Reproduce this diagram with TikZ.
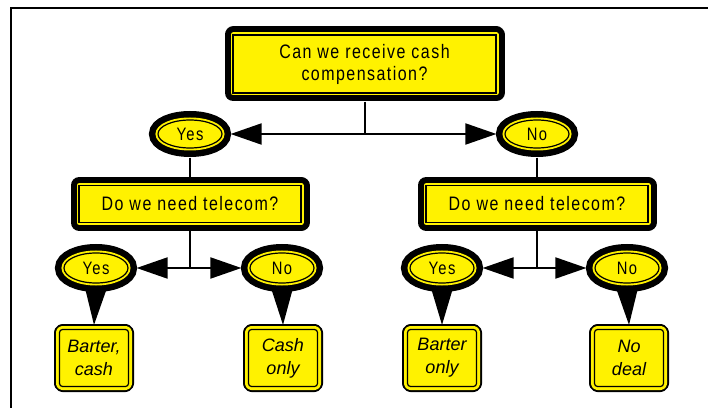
\documentclass[tikz,border=0pt]{standalone}
\usepackage{fontspec}
\setmainfont{Liberation Sans}
\newfontfamily\spaced[LetterSpace=7.5, FakeStretch=0.82]{Liberation Sans}
\usetikzlibrary{shapes.geometric, arrows.meta, positioning, calc}

\begin{document}
\begin{tikzpicture}[
  x=1pt, y=1pt, node distance=70pt,
  question/.style={rectangle, minimum width=222pt, minimum height=37pt, inner sep=0pt, text centered, align=center, font=\spaced\fontsize{19.5}{22}\selectfont, draw=black, line width=1.2pt, fill=yellow, preaction={draw=black, line width=17pt, line join=round}, preaction={draw=yellow, line width=5pt, line join=round}},
  answer/.style={ellipse, minimum width=64pt, minimum height=28pt, inner sep=0pt, font=\spaced\fontsize{18}{20}\selectfont, draw=black, line width=1.2pt, fill=yellow, preaction={draw=black, line width=18pt}, preaction={draw=yellow, line width=5pt}},
  outcome/.style={rectangle, rounded corners=3pt, minimum width=69pt, minimum height=57pt, inner sep=0pt, text centered, align=center, font=\itshape\fontsize{18}{23}\selectfont, draw=black, line width=1.2pt, fill=yellow, preaction={draw=black, line width=11pt, line join=round}, preaction={draw=yellow, line width=7pt, line join=round}},
  link/.style={line width=2pt},
  arrow/.style={line width=2pt, -{Triangle[length=31pt, width=21pt]}, shorten >=8pt},
  wedge/.style={fill=black}]

  \useasboundingbox (0,0) rectangle (708,407);
  \draw [line width=2.5pt] (710,399) -| (11,-2);

  % Nodes
  \node (cash) [question, minimum width=263pt, minimum height=58pt] at (364.5,343) {Can we receive cash \\ compensation?};
  \node (yesA) [answer, below of=cash, xshift=-174.5pt] {Yes};
  \node (noA) [answer, below of=cash, xshift=172.5pt] {No};

  \node (telA) [question, below of=yesA] {Do we need telecom?};
  \node (telB) [question, below of=noA] {Do we need telecom?};

  \node (yesB) [answer, minimum height=30pt, below of=telA, xshift=-94pt, yshift=6pt] {Yes};
  \node (noB) [answer, minimum height=30pt, below of=telA, xshift=92pt, yshift=6pt] {No};
  \node (yesC) [answer, minimum height=30pt, below of=telB, xshift=-95pt, yshift=6pt] {Yes};
  \node (noC) [answer, minimum height=30pt, below of=telB, xshift=90pt, yshift=6pt] {No};

  \node (barter) [outcome, below of=yesB, xshift=-2pt, yshift=-20pt] {Barter, \\ cash};
  \node (cashonly) [outcome, below of=noB, xshift=1pt, yshift=-20pt] {Cash \\ only};
  \node (barteronly) [outcome, below of=yesC, yshift=-20pt] {Barter \\ only};
  \node (nodeal) [outcome, below of=noC, xshift=2pt, yshift=-20pt] {No \\ deal};

  \coordinate (forkA) at (cash |- yesA);
  \coordinate (forkB) at (telA |- yesB);
  \coordinate (forkC) at (telB |- yesC);

  % Arrows
  \draw [link, shorten <=8pt] (cash) -- (forkA);
  \draw [arrow] (forkA) -- (yesA);
  \draw [arrow] (forkA) -- (noA);
  \draw [link, shorten <=9pt, shorten >=8pt] (yesA) -- (telA);
  \draw [link, shorten <=9pt, shorten >=8pt] (noA) -- (telB);

  \draw [link, shorten <=8pt] (telA) -- (forkB);
  \draw [arrow] (forkB) -- (yesB);
  \draw [arrow] (forkB) -- (noB);
  \draw [link, shorten <=8pt] (telB) -- (forkC);
  \draw [arrow] (forkC) -- (yesC);
  \draw [arrow] (forkC) -- (noC);

  \foreach \a/\b in {yesB/barter, noB/cashonly, yesC/barteronly, noC/nodeal}
    \fill [wedge] ($(\a)+(-11,-20)$) -- ($(\a)+(11,-20)$) -- ($(\b.north)+(0,4)$) -- cycle;

\end{tikzpicture}
\end{document}
